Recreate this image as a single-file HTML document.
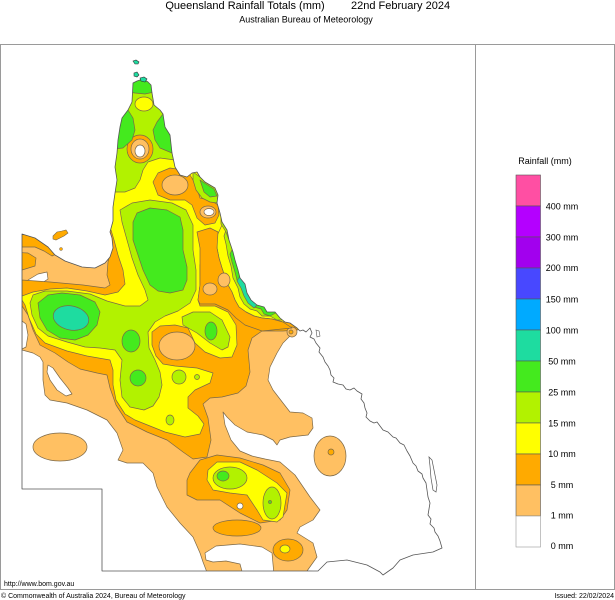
<!DOCTYPE html>
<html><head><meta charset="utf-8"><style>
html,body{margin:0;padding:0;background:#fff;}
body{width:615px;height:600px;overflow:hidden;}
svg{display:block;font-family:"Liberation Sans",Arial,sans-serif;}
</style></head><body>
<svg width="615" height="600" viewBox="0 0 615 600" xmlns="http://www.w3.org/2000/svg">
<defs>
<clipPath id="land"><path d="M133,83 L137,81 L143,79 L148,82 L151,85 L152,93 L154,105 L160,110 L163,114 L165,127 L170,135 L172,153 L175,167 L180,175 L187,177 L192,173 L197,172 L200,177 L205,182 L215,188 L218,195 L217,203 L220,213 L222,222 L227,230 L229,240 L233,252 L235,260 L238,270 L240,278 L245,284 L247,293 L251,300 L257,305 L264,307 L267,312 L275,312 L280,318 L285,322 L290,323 L297,328 L300,331 L303,330 L306,332 L310,328 L312,333 L310,337 L314,339 L316,343 L320,348 L319,352 L323,357 L325,362 L328,366 L330,370 L331,375 L334,378 L333,382 L338,384 L343,385 L346,389 L350,390 L354,388 L357,391 L362,394 L361,399 L364,403 L365,408 L367,413 L366,417 L370,421 L374,423 L377,422 L380,426 L383,430 L388,432 L393,437 L396,438 L400,443 L404,445 L407,451 L410,456 L413,463 L416,466 L418,471 L422,474 L423,478 L426,483 L427,490 L428,497 L430,503 L429,509 L428,515 L431,519 L430,524 L434,528 L435,532 L438,536 L440,541 L442,548 L433,552 L413,555 L400,560 L393,568 L383,575 L380,572 L367,565 L347,560 L327,562 L318,571 L102,571 L102,489 L22,489 L22,234 L35,238 L48,247 L55,255 L65,261 L82,267 L95,268 L105,263 L110,257 L113,248 L112,238 L110,232 L113,221 L113,207 L115,193 L117,180 L115,167 L117,153 L118,140 L120,127 L122,118 L128,110 L132,102 Z"/></clipPath>
</defs>

<!-- title -->
<text x="245" y="9" font-size="11" text-anchor="middle" fill="#000">Queensland Rainfall Totals (mm)</text>
<text x="351" y="9" font-size="11" fill="#000">22nd February 2024</text>
<text x="306" y="22.5" font-size="9" text-anchor="middle" fill="#000">Australian Bureau of Meteorology</text>

<g clip-path="url(#land)" stroke="#7b6848" stroke-width="0.7" stroke-linejoin="round">
<rect x="0" y="40" width="480" height="560" fill="#FFC062" stroke="none"/>
<!-- white regions -->
<polygon fill="#fff" points="300,326 297,330 290,336 283,343 277,353 270,367 268,380 273,390 283,403 290,412 303,413 312,418 313,428 308,435 290,437 280,440 277,445 273,440 263,435 247,432 235,425 227,417 223,412 225,425 231,440 240,451 252,456 265,459 280,462 295,475 310,497 320,510 313,520 300,527 297,533 313,543 317,557 307,571 460,580 460,320 330,318"/>
<polygon fill="#fff" points="22,350 33,353 40,357 43,362 43,380 45,395 50,400 67,403 87,410 107,420 117,433 123,450 118,460 127,463 143,463 153,473 157,487 167,507 180,523 193,537 200,553 203,562 208,575 10,580 10,345"/>
<polygon fill="#fff" points="48,365 53,368 60,378 68,388 72,394 66,396 57,390 50,380 47,372"/>
<polygon fill="#fff" points="205,553 216,546 240,544 262,547 272,553 274,575 243,575 240,564 226,561 213,562 206,560"/>
<polygon fill="#fff" points="25,288 28,280 38,274 47,272 48,279 39,285 28,291"/>
<ellipse cx="60" cy="447" rx="27" ry="14" fill="#FFC062"/>
<ellipse cx="330" cy="456" rx="16" ry="20" fill="#FFC062"/>
<circle cx="331" cy="452" r="3" fill="#FFAA00"/>
<!-- orange -->
<polygon fill="#FFAA00" points="22,280 50,282 83,285 105,288 110,285 107,275 108,262 111,250 112,240 100,232 90,70 250,70 260,250 300,310 330,325 297,330 283,331 262,331 252,338 248,350 250,372 246,386 238,393 222,397 210,398 203,404 208,418 211,440 207,457 193,459 183,452 167,440 147,432 127,422 116,405 110,388 107,375 97,373 80,369 68,362 55,353 40,345 33,330 28,315 22,306"/>
<polygon fill="#FFAA00" points="10,230 35,236 48,245 56,254 52,256 44,251 35,247 22,247 10,247"/>
<polygon fill="#FFAA00" points="10,252 28,253 36,258 35,266 22,270 10,270"/>
<polygon fill="#fff" points="22,321 26,324 28,335 26,347 22,349"/>
<ellipse cx="177" cy="346" rx="18" ry="14" fill="#FFC062"/>
<circle cx="292" cy="332" r="5" fill="#FFC062"/>
<circle cx="291" cy="332" r="2" fill="#FFAA00"/>
<!-- yellow -->
<polygon fill="#FFFF00" points="22,296 33,292 50,289 67,288 87,291 105,295 118,292 125,284 123,270 118,255 114,240 111,230 100,225 95,70 250,70 245,190 230,225 227,232 215,240 205,250 200,265 200,285 198,300 200,306 215,306 228,312 236,325 237,345 232,357 220,358 205,352 195,343 188,328 175,325 160,326 152,332 152,345 156,356 163,364 175,366 197,368 213,373 210,383 195,390 188,397 188,408 198,416 204,424 200,434 185,437 165,432 150,426 135,420 125,414 116,400 113,385 113,370 110,360 87,356 67,351 45,343 36,334 29,318 25,305 22,300"/>
<polygon fill="#FFFF00" points="222,225 240,225 300,300 300,318 283,322 272,319 262,318 254,316 246,312 239,307 235,300 232,292 228,285 225,277 222,268 219,258 217,248 216,238"/>
<!-- orange on yellow -->
<polygon fill="#FFAA00" points="197,232 210,228 218,232 217,248 219,258 222,268 225,277 228,285 232,292 235,300 239,307 246,312 254,316 262,318 272,319 283,322 292,328 262,331 245,325 236,318 228,310 215,304 200,304 198,300 200,285 200,265 200,248"/>
<polygon fill="#FFAA00" points="153,182 158,173 170,168 183,170 190,175 196,185 200,198 210,200 218,205 219,215 215,223 205,225 197,218 192,205 185,200 170,200 158,195"/>
<ellipse cx="175" cy="185" rx="13" ry="10" fill="#FFC062"/>
<ellipse cx="208" cy="212" rx="8" ry="6" fill="#FFC062"/>
<ellipse cx="209" cy="212" rx="5" ry="3.5" fill="#fff"/>
<ellipse cx="210" cy="289" rx="7" ry="6" fill="#FFC062"/>
<ellipse cx="224" cy="280" rx="6" ry="7" fill="#FFC062"/>
<!-- yellow-green -->
<polygon fill="#B2F200" points="95,70 240,70 178,150 175,160 160,158 148,162 143,170 140,180 135,188 125,192 115,192 95,192"/>
<polygon fill="#B2F200" points="120,210 132,203 150,200 172,203 186,210 193,225 193,250 196,270 196,290 190,303 178,311 165,316 155,322 148,332 149,348 155,360 160,372 162,385 159,397 153,406 144,410 130,407 122,397 120,380 122,360 115,350 100,348 85,347 67,342 48,336 38,328 32,315 30,303 33,295 45,291 67,291 90,294 107,301 125,306 140,306 148,300 145,290 138,275 132,258 127,240 122,222"/>
<polygon fill="#B2F200" points="182,317 193,312 210,312 222,320 230,337 228,347 222,350 210,343 197,333 183,325"/>
<circle cx="179" cy="377" r="7" fill="#B2F200"/>
<circle cx="197" cy="377" r="2.5" fill="#B2F200"/>
<ellipse cx="170" cy="420" rx="4" ry="5" fill="#B2F200"/>
<polygon fill="#B2F200" points="226,230 240,228 300,300 290,320 277,320 270,316 262,316 257,311 250,309 244,304 240,297 238,288 233,278 231,266 228,256 226,244 224,236"/>
<polygon fill="#B2F200" points="193,172 200,177 205,182 215,188 218,195 217,203 210,202 202,198 196,190 193,180"/>
<polygon fill="#B2F200" points="219,203 240,200 240,240 229,240 226,232 221,224 221,212"/>
<ellipse cx="144" cy="104" rx="9" ry="7" fill="#FFFF00"/>
<ellipse cx="140" cy="149" rx="13" ry="14" fill="#FFAA00"/>
<ellipse cx="140" cy="149" rx="9" ry="10" fill="#FFC062"/>
<ellipse cx="140" cy="151" rx="5" ry="6" fill="#fff"/>
<!-- green -->
<polygon fill="#44EA1E" points="120,70 165,70 154,92 145,94 135,93 128,92"/>
<polygon fill="#44EA1E" points="105,108 128,110 133,118 135,130 132,140 123,148 105,150"/>
<polygon fill="#44EA1E" points="163,114 157,122 153,130 155,140 160,148 172,153 185,150 175,110"/>
<polygon fill="#44EA1E" points="133,222 137,213 150,208 167,210 180,217 183,230 183,250 187,267 187,280 183,290 170,293 158,291 150,285 143,270 138,255 133,240"/>
<polygon fill="#44EA1E" points="38,303 48,295 62,293 80,295 95,302 100,312 97,325 88,335 75,340 60,338 47,330 40,318"/>
<ellipse cx="131" cy="341" rx="9" ry="11" fill="#44EA1E"/>
<ellipse cx="138" cy="378" rx="8" ry="8" fill="#44EA1E"/>
<ellipse cx="211" cy="331" rx="6" ry="9" fill="#44EA1E"/>
<polygon fill="#44EA1E" points="200,180 206,184 214,189 217,196 210,197 204,192"/>
<polygon fill="#44EA1E" points="233,248 240,245 300,300 270,316 264,314 261,309 254,307 248,302 244,295 242,286 237,280 235,272 232,262 230,254"/>
<!-- teal -->
<ellipse cx="71" cy="318" rx="18" ry="12" fill="#1EDCA0" transform="rotate(12 71 318)"/>
<polygon fill="#1EDCA0" points="240,276 246,283 248,292 252,299 258,304 254,308 248,303 244,296 241,288 237,281"/>
<!-- SE blob -->
<polygon fill="#FFAA00" points="190,473 200,460 217,455 240,458 263,465 280,473 290,490 287,510 280,520 260,523 240,513 220,500 197,500 187,495 187,480"/>
<ellipse cx="237" cy="528" rx="24" ry="8" fill="#FFAA00"/>
<polygon fill="#FFFF00" points="208,470 217,462 240,462 257,470 277,483 287,493 283,517 277,522 263,520 257,510 247,495 230,493 213,490 207,480"/>
<ellipse cx="230" cy="478" rx="17" ry="11" fill="#B2F200"/>
<ellipse cx="223" cy="476" rx="6" ry="5" fill="#44EA1E"/>
<ellipse cx="272" cy="503" rx="9" ry="16" fill="#B2F200"/>
<circle cx="270" cy="502" r="1.5" fill="#44EA1E"/>
<circle cx="240" cy="506" r="3" fill="#fff"/>
<ellipse cx="288" cy="550" rx="15" ry="11" fill="#FFAA00"/>
<ellipse cx="285" cy="549" rx="5" ry="4" fill="#FFFF00"/>
</g>

<!-- coastline / borders -->
<path fill="none" stroke="#555" stroke-width="0.8" stroke-linejoin="round" d="M133,83 L137,81 L143,79 L148,82 L151,85 L152,93 L154,105 L160,110 L163,114 L165,127 L170,135 L172,153 L175,167 L180,175 L187,177 L192,173 L197,172 L200,177 L205,182 L215,188 L218,195 L217,203 L220,213 L222,222 L227,230 L229,240 L233,252 L235,260 L238,270 L240,278 L245,284 L247,293 L251,300 L257,305 L264,307 L267,312 L275,312 L280,318 L285,322 L290,323 L297,328 L300,331 L303,330 L306,332 L310,328 L312,333 L310,337 L314,339 L316,343 L320,348 L319,352 L323,357 L325,362 L328,366 L330,370 L331,375 L334,378 L333,382 L338,384 L343,385 L346,389 L350,390 L354,388 L357,391 L362,394 L361,399 L364,403 L365,408 L367,413 L366,417 L370,421 L374,423 L377,422 L380,426 L383,430 L388,432 L393,437 L396,438 L400,443 L404,445 L407,451 L410,456 L413,463 L416,466 L418,471 L422,474 L423,478 L426,483 L427,490 L428,497 L430,503 L429,509 L428,515 L431,519 L430,524 L434,528 L435,532 L438,536 L440,541 L442,548 L433,552 L413,555 L400,560 L393,568 L383,575 L380,572 L367,565 L347,560 L327,562 L318,571 L102,571 L102,489 L22,489 L22,234 L35,238 L48,247 L55,255 L65,261 L82,267 L95,268 L105,263 L110,257 L113,248 L112,238 L110,232 L113,221 L113,207 L115,193 L117,180 L115,167 L117,153 L118,140 L120,127 L122,118 L128,110 L132,102 Z"/>
<polygon points="429,457 432,460 434,470 437,485 436,492 433,490 431,478 430,466" fill="none" stroke="#555" stroke-width="0.7"/>
<polygon points="316,330 319,331 320,336 317,337" fill="none" stroke="#555" stroke-width="0.6"/>
<polygon points="53,236 57,232 62,231 66,230 68,233 64,236 60,238 56,240 53,239" fill="#FFAA00" stroke="#7b6848" stroke-width="0.6"/>
<circle cx="61" cy="249" r="1.5" fill="#FFAA00" stroke="#7b6848" stroke-width="0.5"/>
<polygon points="133,61 136,60 139,62 138,64 135,64" fill="#1EDCA0" stroke="#333" stroke-width="0.6"/>
<polygon points="134,73 137,72 139,75 137,77 134,76" fill="#1EDCA0" stroke="#333" stroke-width="0.6"/>
<polygon points="140,78 144,77 147,79 145,82 141,81" fill="#1EDCA0" stroke="#333" stroke-width="0.6"/>

<!-- frame -->
<rect x="0.5" y="44.5" width="614" height="545" fill="none" stroke="#9a9a9a" stroke-width="1"/>
<line x1="475.5" y1="44.5" x2="475.5" y2="589.5" stroke="#9a9a9a" stroke-width="1"/>

<!-- legend -->
<text x="545" y="164" font-size="9" text-anchor="middle" fill="#000">Rainfall (mm)</text>
<g stroke="#555" stroke-width="0.6">
<rect x="516" y="175" width="24.5" height="31" fill="#FF4FA3"/>
<rect x="516" y="206" width="24.5" height="31" fill="#B400FF"/>
<rect x="516" y="237" width="24.5" height="31" fill="#A200EE"/>
<rect x="516" y="268" width="24.5" height="31" fill="#4848FF"/>
<rect x="516" y="299" width="24.5" height="31" fill="#00AAFF"/>
<rect x="516" y="330" width="24.5" height="31" fill="#1EDCA0"/>
<rect x="516" y="361" width="24.5" height="31" fill="#44EA1E"/>
<rect x="516" y="392" width="24.5" height="31" fill="#B2F200"/>
<rect x="516" y="423" width="24.5" height="31" fill="#FFFF00"/>
<rect x="516" y="454" width="24.5" height="31" fill="#FFAA00"/>
<rect x="516" y="485" width="24.5" height="31" fill="#FFC062"/>
<rect x="516" y="516" width="24.5" height="31" fill="#fff" stroke="#999"/>
</g>
<g font-size="9" text-anchor="middle" fill="#000">
<text x="562" y="209.7">400 mm</text>
<text x="562" y="240.7">300 mm</text>
<text x="562" y="271">200 mm</text>
<text x="562" y="302.7">150 mm</text>
<text x="562" y="333.7">100 mm</text>
<text x="562" y="364.3">50 mm</text>
<text x="562" y="395.3">25 mm</text>
<text x="562" y="426.3">15 mm</text>
<text x="562" y="457">10 mm</text>
<text x="562" y="488">5 mm</text>
<text x="562" y="518.7">1 mm</text>
<text x="562" y="549">0 mm</text>
</g>

<!-- footer -->
<text x="4" y="586" font-size="7" fill="#000">http://www.bom.gov.au</text>
<text x="1" y="598" font-size="7" fill="#000">© Commonwealth of Australia 2024, Bureau of Meteorology</text>
<text x="614" y="598" font-size="7" text-anchor="end" fill="#000">Issued: 22/02/2024</text>
</svg>
</body></html>
